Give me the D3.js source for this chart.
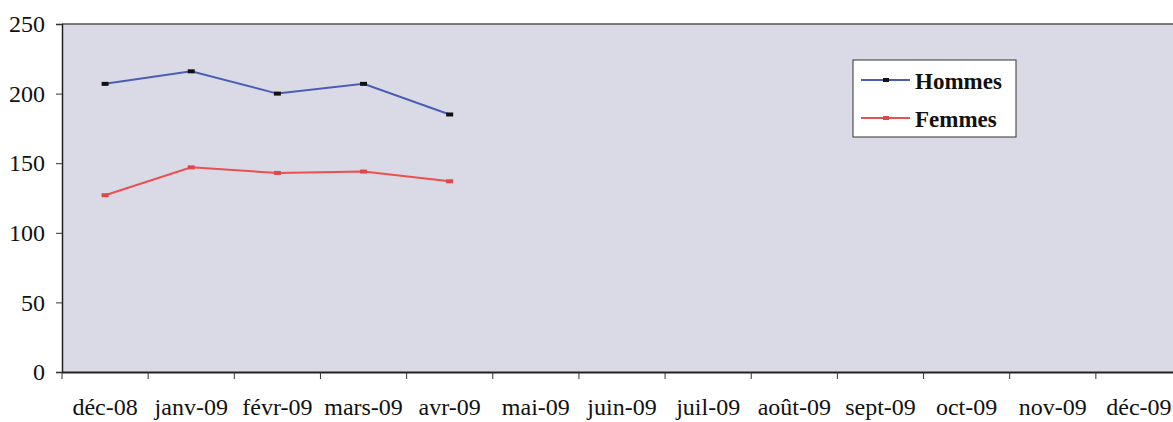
<!DOCTYPE html>
<html><head><meta charset="utf-8">
<script src="https://cdn.jsdelivr.net/npm/d3@7"></script>
<style>body{margin:0;background:#fff;}svg{display:block;}</style>
</head><body><svg id="c" width="1173" height="422"></svg>
<script>
const categories = ["déc-08","janv-09","févr-09","mars-09","avr-09","mai-09","juin-09","juil-09","août-09","sept-09","oct-09","nov-09","déc-09"];
const hommes = [207, 216, 200, 207, 185];
const femmes = [127, 147, 143, 144, 137];
const yTicks = [0, 50, 100, 150, 200, 250];
const seriesNames = ["Hommes", "Femmes"];

const FONT = "'Liberation Serif', 'Times New Roman', serif";
const svg = d3.select("#c");
const m = {l: 62, t: 24, r: 1182, b: 372};
const x = d3.scaleBand().domain(categories).range([m.l, m.r]);
const y = d3.scaleLinear().domain([0, 250]).range([m.b, m.t]);

svg.append("rect").attr("x", m.l).attr("y", m.t).attr("width", m.r - m.l).attr("height", m.b - m.t)
  .attr("fill", "#dadae7");
svg.append("line").attr("x1", m.l).attr("x2", m.r).attr("y1", m.t).attr("y2", m.t)
  .attr("stroke", "#555").attr("stroke-width", 1.5);

// Y axis
const ya = svg.append("g").attr("transform", `translate(${m.l},0)`)
  .call(d3.axisLeft(y).tickValues(yTicks).tickSize(6).tickPadding(11));
ya.select(".domain").attr("stroke", "#222").attr("stroke-width", 1.5);
ya.selectAll(".tick line").attr("stroke", "#333");
ya.selectAll("text").style("font-family", FONT).style("font-size", "24px").attr("fill", "#111");

// X axis
const xa = svg.append("g").attr("transform", `translate(0,${m.b})`)
  .call(d3.axisBottom(x).tickSize(0).tickPadding(26));
xa.select(".domain").attr("stroke", "#222").attr("stroke-width", 2);
xa.selectAll("text").style("font-family", FONT).style("font-size", "24px").attr("fill", "#111");
// boundary ticks
svg.append("g").selectAll("line").data(categories).join("line")
  .attr("x1", d => x(d)).attr("x2", d => x(d)).attr("y1", m.b).attr("y2", m.b + 7)
  .attr("stroke", "#333").attr("stroke-width", 1);

const cx = (d, i) => x(categories[i]) + x.bandwidth() / 2;
const line = d3.line().x(cx).y(d => y(d));

svg.append("path").datum(hommes).attr("d", line).attr("fill", "none")
  .attr("stroke", "#4a5db5").attr("stroke-width", 2);
svg.append("path").datum(femmes).attr("d", line).attr("fill", "none")
  .attr("stroke", "#ec4f4f").attr("stroke-width", 2);

svg.append("g").selectAll("rect").data(hommes).join("rect")
  .attr("x", (d, i) => cx(d, i) - 3.5).attr("y", d => y(d) - 2).attr("width", 7).attr("height", 4)
  .attr("fill", "#111");
svg.append("g").selectAll("rect").data(femmes).join("rect")
  .attr("x", (d, i) => cx(d, i) - 3.5).attr("y", d => y(d) - 2).attr("width", 7).attr("height", 4)
  .attr("fill", "#e04848");

// Legend
const lg = svg.append("g");
lg.append("rect").attr("x", 853).attr("y", 60).attr("width", 163).attr("height", 77)
  .attr("fill", "#fff").attr("stroke", "#333").attr("stroke-width", 1);
const colors = ["#4a5db5", "#ec4f4f"];
const mk = ["#111", "#e04848"];
seriesNames.forEach((n, i) => {
  const yy = 80 + i * 38;
  lg.append("line").attr("x1", 861).attr("x2", 910).attr("y1", yy).attr("y2", yy)
    .attr("stroke", colors[i]).attr("stroke-width", 2);
  lg.append("rect").attr("x", 883).attr("y", yy - 2).attr("width", 6).attr("height", 4).attr("fill", mk[i]);
  lg.append("text").attr("x", 915).attr("y", yy + 9).text(n)
    .style("font-family", FONT).style("font-size", "23px").style("font-weight", "bold").attr("fill", "#111");
});
</script></body></html>
